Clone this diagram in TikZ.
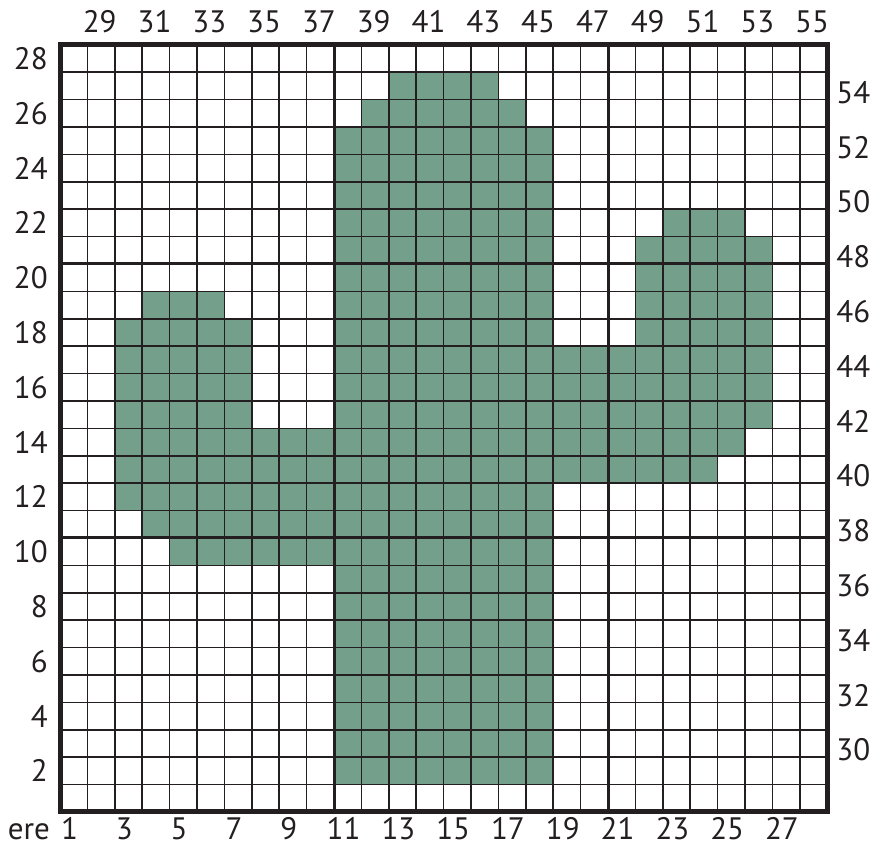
\documentclass[tikz,border=0pt]{standalone}
\usepackage{fontspec}
\setmainfont{PT Sans}
\definecolor{cactus}{RGB}{116,159,139}
\definecolor{ink}{RGB}{35,31,32}
\tikzset{
  lbl/.style={font=\fontsize{31}{34}\selectfont, text=ink, inner sep=0pt},
  thingrid/.style={draw=ink, line width=1.5pt},
  thickgrid/.style={draw=ink, line width=3pt},
  borderline/.style={draw=ink, line width=5pt},
  cell/.style={fill=cactus}
}
\begin{document}
\begin{tikzpicture}[x=1pt,y=1pt]
\useasboundingbox (0,0) rectangle (886,843);
\begin{scope}[shift={(60pt,31pt)}, x=27.4pt, y=27.4pt]
  % green cells
  \fill[cell] (2,11) rectangle (3,18);
  \fill[cell] (3,10) rectangle (4,19);
  \fill[cell] (4,9) rectangle (6,19);
  \fill[cell] (6,9) rectangle (7,18);
  \fill[cell] (7,9) rectangle (10,14);
  \fill[cell] (10,1) rectangle (18,25);
  \fill[cell] (11,25) rectangle (17,26);
  \fill[cell] (12,26) rectangle (16,27);
  \fill[cell] (18,12) rectangle (21,17);
  \fill[cell] (21,12) rectangle (22,21);
  \fill[cell] (22,12) rectangle (24,22);
  \fill[cell] (24,13) rectangle (25,22);
  \fill[cell] (25,14) rectangle (26,21);
  % grid
  \draw[thingrid, step=1] (0,0) grid (28,28);
  \draw[thickgrid] (10,0) -- (10,28) (20,0) -- (20,28) (0,10) -- (28,10) (0,20) -- (28,20);
  \draw[borderline] (0,0) rectangle (28,28);
  % left labels
  \foreach \r in {2,4,...,28} {
    \node[lbl, anchor=east] (left\r) at (-0.44, \r-0.5) {\r};
  }
  % right labels
  \foreach \k in {2,4,...,26} {
    \pgfmathtruncatemacro{\v}{28+\k}
    \node[lbl, anchor=west] (right\v) at (28.33, \k+0.26) {\v};
  }
  % top labels
  \foreach \c in {2,4,...,28} {
    \pgfmathtruncatemacro{\v}{27+\c}
    \node[lbl] (top\v) at (\c-0.55, 28.84) {\v};
  }
  % bottom labels
  \foreach \c in {1,3,...,27} {
    \node[lbl, anchor=base] (bot\c) at (\c-0.65, -0.99) {\c};
  }
  \node[lbl, anchor=base east] (ere) at (-0.365, -0.99) {ere};
\end{scope}
\end{tikzpicture}
\end{document}
